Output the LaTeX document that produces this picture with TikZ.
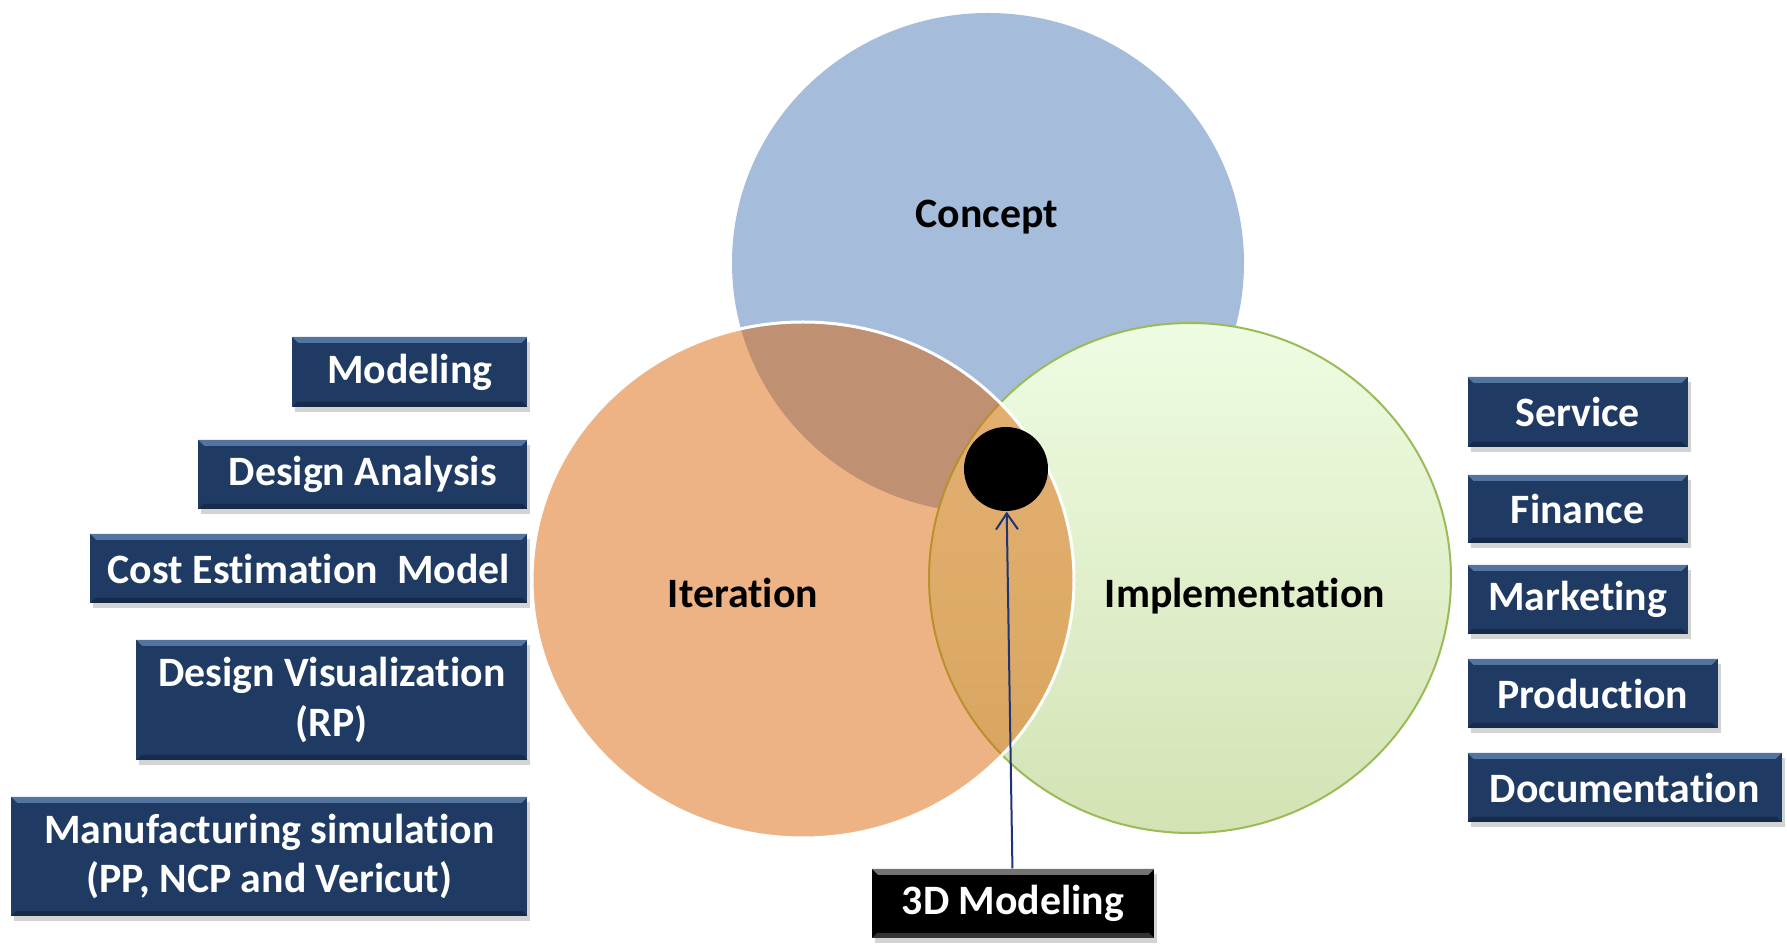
\documentclass[tikz,border=0pt]{standalone}
\usepackage{fontspec}
\setmainfont{Carlito}[Ligatures=NoCommon]
\usepackage{tikz}
\usetikzlibrary{arrows.meta}
\usetikzlibrary{shadows}

\definecolor{conceptblue}{RGB}{165,189,219}
\definecolor{iterorange}{RGB}{220,97,0}
\definecolor{impltop}{RGB}{238,252,226}
\definecolor{implbottom}{RGB}{211,227,180}
\definecolor{implline}{RGB}{155,187,89}
\definecolor{boxnavy}{RGB}{31,58,99}
\definecolor{boxtop}{RGB}{84,116,160}
\definecolor{boxbottom}{RGB}{22,42,74}
\definecolor{arrowblue}{RGB}{30,52,118}

\begin{document}
\begin{tikzpicture}[x=0.1mm,y=-0.1mm,
  font=\bfseries\fontsize{11.9}{14.2}\selectfont,
  bevelbox/.style n args={3}{shape=rectangle,fill=#1,text=white,inner sep=0pt,align=center,
    drop shadow={shadow xshift=0.3mm,shadow yshift=-0.5mm,opacity=0.35},
    path picture={
      \fill[#2] (path picture bounding box.north west) -- (path picture bounding box.north east)
        -- ([shift={(-0.6mm,-0.6mm)}]path picture bounding box.north east)
        -- ([shift={(0.6mm,-0.6mm)}]path picture bounding box.north west) -- cycle;
      \fill[#3] (path picture bounding box.south west) -- (path picture bounding box.south east)
        -- ([shift={(-0.5mm,0.5mm)}]path picture bounding box.south east)
        -- ([shift={(0.5mm,0.5mm)}]path picture bounding box.south west) -- cycle;
    }},
  blockbox/.style={bevelbox={boxnavy}{boxtop}{boxbottom}},
  blackbox/.style={bevelbox={black}{black!55}{black!80}}]
\useasboundingbox (0,0) rectangle (1787,944);

% the three circles
\fill[conceptblue] (988,263) ellipse [x radius=25.6mm,y radius=25mm];
\shade[top color=impltop,bottom color=implbottom] (1190,578) ellipse [x radius=26.1mm,y radius=25.5mm];
\draw[implline,line width=0.2mm] (1190,578) ellipse [x radius=26.1mm,y radius=25.5mm];
\draw[white,line width=0.3mm,fill=iterorange,fill opacity=0.48] (803,580) ellipse [x radius=27.1mm,y radius=25.8mm];

\node (conceptlbl) [anchor=base] at (987,228) {Concept};
\node (iterlbl) [anchor=base] at (743,608) {Iteration};
\node (impllbl) [anchor=base] at (1245,608) {Implementation};
\node (dot) [circle,fill=black,inner sep=0pt,minimum size=8.4mm] at (1006,469) {};

% left column
\draw (528,372) node (modeling) [blockbox,anchor=east,minimum width=23.5mm,minimum height=7mm] {Modeling};
\draw (528,474.5) node (analysis) [blockbox,anchor=east,minimum width=32.9mm,minimum height=6.9mm] {Design Analysis};
\draw (528,568.5) node (costmodel) [blockbox,anchor=east,minimum width=43.7mm,minimum height=6.9mm] {Cost Estimation~ Model};
\draw (528,700) node (visual) [blockbox,anchor=east,minimum width=39.1mm,minimum height=12mm] {Design Visualization\\(RP)};
\draw (528,856.5) node (manufsim) [blockbox,anchor=east,minimum width=51.6mm,minimum height=11.9mm] {Manufacturing simulation\\(PP, NCP and Vericut)};

% right column
\draw (1467,412) node (service) [blockbox,anchor=west,minimum width=22mm,minimum height=7mm] {Service};
\draw (1467,509) node (finance) [blockbox,anchor=west,minimum width=22mm,minimum height=6.8mm] {Finance};
\draw (1467,599.5) node (marketing) [blockbox,anchor=west,minimum width=22mm,minimum height=6.9mm] {Marketing};
\draw (1467,693.5) node (production) [blockbox,anchor=west,minimum width=25mm,minimum height=6.9mm] {Production};
\draw (1467,787.5) node (documentation) [blockbox,anchor=west,minimum width=31.4mm,minimum height=6.9mm] {Documentation};

% bottom
\draw (1013,903.5) node (model3d) [blackbox,minimum width=28.2mm,minimum height=6.9mm] {3D Modeling};
\draw[arrowblue,line width=0.2mm,-{Straight Barb[length=1.6mm,width=2.2mm]}] (model3d) -- (dot);
\end{tikzpicture}
\end{document}
